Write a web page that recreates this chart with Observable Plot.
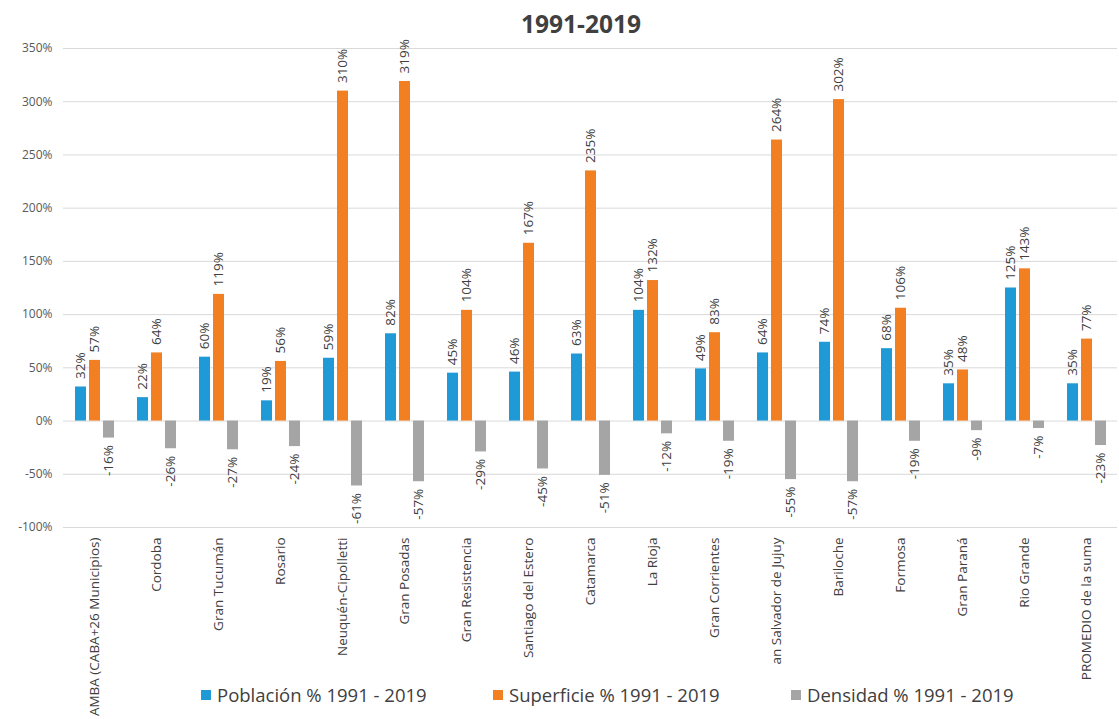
<!DOCTYPE html>
<html><head><meta charset="utf-8">
<script src="https://cdn.jsdelivr.net/npm/d3@7"></script>
<script src="https://cdn.jsdelivr.net/npm/@observablehq/plot@0.6"></script>
<style>
body{margin:0;background:#fff;font-family:'Open Sans',sans-serif;}
#wrap{position:relative;width:1119px;height:719px;overflow:hidden;background:#fff;}
#title{position:absolute;left:43px;width:1076px;top:7px;text-align:center;font-weight:bold;font-size:24.5px;line-height:34px;color:#404040;}
#chart{position:absolute;left:0;top:40px;width:1124px;}
#chart svg{max-width:none !important;}
#legend{position:absolute;top:682px;left:201px;display:flex;font-size:18.5px;color:#404040;line-height:26px;white-space:nowrap;}
.item{display:flex;align-items:center;}
.sw{width:10px;height:10px;margin-right:6px;flex:none;}
</style></head>
<body>
<div id="wrap">
<div id="title">1991-2019</div>
<div id="chart"></div>
<div id="legend"></div>
</div>
<script>
const categories = ["AMBA (CABA+26 Municipios)","Cordoba","Gran Tucumán","Rosario","Neuquén-Cipolletti","Gran Posadas","Gran Resistencia","Santiago del Estero","Catamarca","La Rioja","Gran Corrientes","an Salvador de Jujuy","Bariloche","Formosa","Gran Paraná","Rio Grande","PROMEDIO de la suma"];
const series = ["Población % 1991 - 2019","Superficie % 1991 - 2019","Densidad % 1991 - 2019"];
const poblacion = [32,22,60,19,59,82,45,46,63,104,49,64,74,68,35,125,35];
const superficie = [57,64,119,56,310,319,104,167,235,132,83,264,302,106,48,143,77];
const densidad = [-16,-26,-27,-24,-61,-57,-29,-45,-51,-12,-19,-55,-57,-19,-9,-7,-23];
const yTicks = [-100,-50,0,50,100,150,200,250,300,350];
const colors = ["#1f9ad6","#f27f22","#a5a5a5"];

const valuesBySeries = [poblacion, superficie, densidad];
const rows = [];
categories.forEach((c, i) => {
  series.forEach((s, j) => rows.push({cat: c, serie: s, value: valuesBySeries[j][i]}));
});

const font = "'Open Sans', sans-serif";
const chart = Plot.plot({
  width: 1124,
  height: 679,
  marginTop: 8,
  marginBottom: 192,
  marginLeft: 56,
  marginRight: 0,
  style: {fontFamily: font, background: "transparent", overflow: "visible", maxWidth: "none"},
  fx: {domain: categories, padding: 0},
  x: {domain: series, paddingInner: 0.225, paddingOuter: 0.82, axis: null},
  y: {domain: [-100, 350]},
  color: {domain: series, range: colors},
  marks: [
    Plot.ruleY(yTicks, {stroke: "#d9d9d9", strokeWidth: 1}),
    Plot.axisY({ticks: yTicks, tickFormat: d => d + "%", tickSize: 0, tickPadding: 11, fontSize: 12, color: "#595959", label: null}),
    Plot.axisFx({anchor: "bottom", tickRotate: -90, tickSize: 0, tickPadding: 10, fontSize: 13.5, color: "#404040", label: null}),
    Plot.barY(rows, {fx: "cat", x: "serie", y: "value", fill: "serie"}),
    Plot.text(rows.filter(d => d.value >= 0), {fx: "cat", x: "serie", y: "value", text: d => d.value + "%", rotate: -90, textAnchor: "start", dy: -8, fontSize: 13.5, fill: "#404040"}),
    Plot.text(rows.filter(d => d.value < 0), {fx: "cat", x: "serie", y: "value", text: d => d.value + "%", rotate: -90, textAnchor: "end", dy: 7, fontSize: 13.5, fill: "#404040"})
  ]
});
document.getElementById("chart").appendChild(chart);

const legend = document.getElementById("legend");
const widths = [292, 298, 260];
series.forEach((s, j) => {
  const it = document.createElement("div");
  it.className = "item";
  it.style.width = widths[j] + "px";
  it.innerHTML = `<span class="sw" style="background:${colors[j]}"></span><span>${s}</span>`;
  legend.appendChild(it);
});
</script>
</body></html>
